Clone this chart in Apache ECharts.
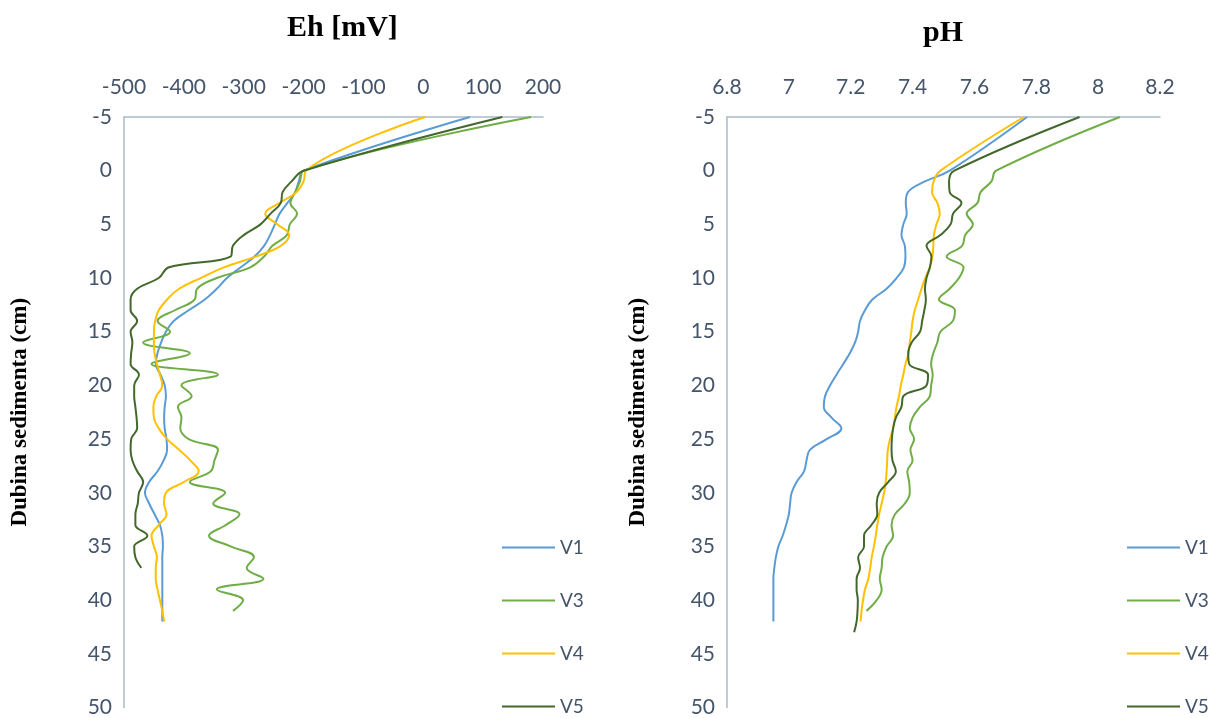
<!DOCTYPE html>
<html>
<head>
<meta charset="utf-8">
<script src="https://cdn.jsdelivr.net/npm/echarts@6/dist/echarts.min.js"></script>
<style>
  html, body { margin: 0; padding: 0; background: #fff; }
  #chart { width: 1211px; height: 718px; }
</style>
</head>
<body>
<div id="chart"></div>
<script>
// dubina (cm)
const depths = [-5, 0, 1, 2, 3, 4, 5, 6, 7, 8, 9, 10, 11, 12, 13, 14, 15, 16, 17, 18, 19, 20,
  21, 22, 23, 24, 25, 26, 27, 28, 29, 30, 31, 32, 33, 34, 35, 36, 37, 38, 39, 40, 41, 42, 43]

// Eh [mV]
const ehV1 = [78, -200, -208, -214, -227, -240, -248, -256, -266, -282, -305, -328, -345, -365, -392, -417,
  -430, -438, -444, -447, -439, -432, -430, -432, -433, -432, -429, -428, -434, -444, -458, -465, -458,
  -449, -440, -436, -435, -436, -436, -436, -436, -436, -436, -436]
const ehV3 = [180, -200, -206, -214, -222, -211, -223, -228, -252, -266, -289, -345, -378, -382, -415, -444,
  -423, -468, -390, -454, -343, -404, -387, -410, -404, -406, -392, -343, -349, -355, -390, -331, -351,
  -307, -330, -358, -322, -283, -295, -267, -345, -301, -318]
const ehV4 = [3, -196, -200, -212, -240, -264, -244, -224, -238, -280, -333, -372, -408, -428, -442, -448,
  -450, -450, -449, -445, -440, -436, -446, -451, -450, -442, -428, -408, -389, -375, -400, -430, -433,
  -429, -442, -454, -450, -445, -447, -447, -444, -440, -436, -433]
const ehV5 = [132, -200, -220, -235, -238, -255, -272, -300, -318, -322, -425, -442, -478, -489, -489, -478,
  -489, -486, -488, -489, -475, -483, -483, -481, -479, -478, -488, -489, -486, -478, -468, -475, -477,
  -481, -481, -461, -483, -481, -471]

// pH
const phV1 = [7.77, 7.52, 7.44, 7.385, 7.378, 7.381, 7.370, 7.364, 7.375, 7.377, 7.372, 7.348, 7.316, 7.270,
  7.246, 7.230, 7.224, 7.214, 7.197, 7.176, 7.154, 7.133, 7.117, 7.113, 7.138, 7.170, 7.122, 7.068, 7.057,
  7.049, 7.025, 7.009, 7.004, 7.000, 6.991, 6.980, 6.966, 6.958, 6.953, 6.950, 6.950, 6.950, 6.950, 6.950]
const phV3 = [8.07, 7.67, 7.655, 7.62, 7.61, 7.575, 7.595, 7.57, 7.56, 7.51, 7.565, 7.55, 7.52, 7.485, 7.537,
  7.53, 7.49, 7.48, 7.467, 7.46, 7.465, 7.46, 7.456, 7.424, 7.400, 7.391, 7.405, 7.393, 7.400, 7.383, 7.389,
  7.391, 7.375, 7.343, 7.332, 7.337, 7.316, 7.303, 7.300, 7.294, 7.300, 7.284, 7.251]
const phV4 = [7.76, 7.49, 7.468, 7.463, 7.480, 7.488, 7.477, 7.469, 7.467, 7.464, 7.456, 7.441, 7.429, 7.418,
  7.407, 7.400, 7.396, 7.391, 7.387, 7.377, 7.370, 7.362, 7.356, 7.348, 7.343, 7.337, 7.327, 7.320, 7.318,
  7.316, 7.313, 7.308, 7.300, 7.292, 7.286, 7.281, 7.275, 7.268, 7.263, 7.257, 7.246, 7.240, 7.235, 7.232]
const phV5 = [7.94, 7.535, 7.518, 7.520, 7.558, 7.531, 7.523, 7.49, 7.445, 7.461, 7.456, 7.445, 7.440, 7.443,
  7.438, 7.431, 7.424, 7.397, 7.386, 7.389, 7.450, 7.445, 7.370, 7.364, 7.346, 7.337, 7.333, 7.332, 7.335,
  7.346, 7.321, 7.292, 7.284, 7.286, 7.267, 7.243, 7.243, 7.224, 7.230, 7.219, 7.219, 7.223, 7.222, 7.219, 7.211]

const names = ['V1', 'V3', 'V4', 'V5']
const colors = ['#5b9bd5', '#70ad47', '#ffc000', '#43682b']
const ehSets = [ehV1, ehV3, ehV4, ehV5]
const phSets = [phV1, phV3, phV4, phV5]

const labelColor = '#44546a'
const axisColor = '#adb9ca'

function pairs(vals) {
  return vals.map((v, i) => [v, depths[i]])
}

function makeSeries(sets, idx) {
  let res = []
  for (let i = 0; i < sets.length; i++) {
    res.push({
      name: names[i],
      type: 'line',
      xAxisIndex: idx,
      yAxisIndex: idx,
      data: pairs(sets[i]),
      smooth: 0.4,
      showSymbol: false,
      symbol: 'none',
      lineStyle: { width: 2, color: colors[i] },
      itemStyle: { color: colors[i] }
    })
  }
  return res
}

function xAxisOf(idx, min, max, interval) {
  return {
    type: 'value',
    gridIndex: idx,
    position: 'top',
    min: min,
    max: max,
    interval: interval,
    axisLine: { show: true, onZero: false, lineStyle: { color: axisColor, width: 1.5 } },
    axisTick: { show: false },
    splitLine: { show: false },
    axisLabel: { color: labelColor, fontFamily: 'Lato', fontSize: 21, margin: 19 }
  }
}

function yAxisOf(idx, gap) {
  return {
    type: 'value',
    gridIndex: idx,
    inverse: true,
    min: -5,
    max: 50,
    interval: 5,
    name: 'Dubina sedimenta (cm)',
    nameLocation: 'middle',
    nameRotate: 90,
    nameGap: gap,
    nameTextStyle: { fontFamily: 'Liberation Serif', fontWeight: 'bold', fontSize: 23, color: '#000' },
    axisLine: { show: true, onZero: false, lineStyle: { color: axisColor, width: 1.5 } },
    axisTick: { show: false },
    splitLine: { show: false },
    axisLabel: { color: labelColor, fontFamily: 'Lato', fontSize: 21, margin: 12 }
  }
}

function legendOf(left) {
  return {
    orient: 'vertical',
    left: left,
    top: 538,
    padding: 0,
    itemWidth: 53,
    itemHeight: 2,
    itemGap: 34,
    icon: 'rect',
    data: names,
    textStyle: { color: labelColor, fontFamily: 'Lato', fontSize: 19 }
  }
}

const chart = echarts.init(document.getElementById('chart'), null, { renderer: 'canvas' })

const option = {
  animation: false,
  color: colors,
  graphic: [
    { type: 'text', left: 287, top: 13, style: { text: 'Eh [mV]', font: 'bold 30px "Liberation Serif"', fill: '#000' } },
    { type: 'text', left: 923, top: 18, style: { text: 'pH', font: 'bold 30px "Liberation Serif"', fill: '#000' } }
  ],
  grid: [
    { left: 124, top: 117, width: 419, height: 591 },
    { left: 727, top: 117, width: 433, height: 591 }
  ],
  xAxis: [xAxisOf(0, -500, 200, 100), xAxisOf(1, 6.8, 8.2, 0.2)],
  yAxis: [yAxisOf(0, 92), yAxisOf(1, 77)],
  legend: [legendOf(502), legendOf(1127)],
  series: makeSeries(ehSets, 0).concat(makeSeries(phSets, 1))
}

chart.setOption(option)
</script>
</body>
</html>
